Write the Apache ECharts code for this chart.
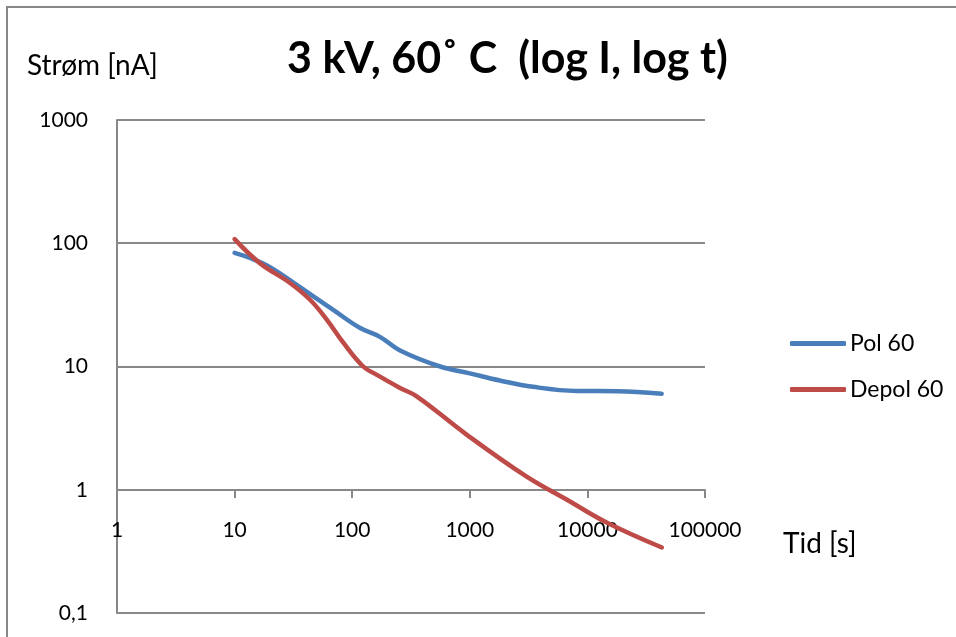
<!DOCTYPE html>
<html>
<head>
<meta charset="utf-8">
<script src="https://cdn.jsdelivr.net/npm/echarts@6/dist/echarts.min.js"></script>
<style>
html,body{margin:0;padding:0;background:#fff;}
#c{width:956px;height:637px;}
</style>
</head>
<body>
<div id="c"></div>
<script>
var titleText = '3 kV, 60\u02DA C  (log I, log t)';
var yName = 'Strøm [nA]';
var xName = 'Tid [s]';
var seriesNames = ['Pol 60', 'Depol 60'];
var polTime = [10, 13.5, 20, 36, 69, 116, 172, 255, 560, 1000, 1800, 3450, 8100, 17800, 42800];
var polCurrent = [83.6, 76, 64, 44, 28.8, 20.6, 17.4, 13.5, 10, 8.8, 7.7, 6.84, 6.33, 6.3, 6.0];
var depolTime = [10, 16.4, 29.6, 43.8, 61, 84, 124, 162, 255, 356, 945, 3070, 6700, 14700, 43000];
var depolCurrent = [108, 69, 47.6, 34.8, 23.9, 15.6, 10, 8.56, 6.7, 5.7, 2.79, 1.27, 0.83, 0.54, 0.34];

function pairs(xs, ys){ return xs.map(function(x,i){ return [x, ys[i]]; }); }

var font = 'Lato, "Open Sans", sans-serif';
var chart = echarts.init(document.getElementById('c'), null, {renderer:'canvas'});
chart.setOption({
  animation:false,
  backgroundColor:'#fff',
  graphic:[
    {type:'rect', shape:{x:7,y:7,width:1000,height:700},
     style:{fill:'none', stroke:'#888', lineWidth:2}, silent:true},
    {type:'text', left:27, top:52, silent:true,
     style:{text:yName, font:'28px ' + font, fill:'#000'}},
    {type:'text', left:783, top:530, silent:true,
     style:{text:xName, font:'28px ' + font, fill:'#000'}}
  ],
  title:{
    text:titleText, left:282, top:33,
    textStyle:{fontFamily:font, fontWeight:'bold', fontSize:43, color:'#000'}
  },
  legend:{
    orient:'vertical', left:785, top:327, itemGap:23,
    itemWidth:56, itemHeight:5,
    icon:'roundRect',
    textStyle:{fontFamily:font, fontSize:23, color:'#000', padding:[0,0,0,-1]},
    data:seriesNames
  },
  grid:{left:117, right:251, top:120, bottom:24, containLabel:false},
  xAxis:{
    type:'log', logBase:10, min:1, max:100000,
    offset:-123,
    axisLine:{show:true, lineStyle:{color:'#888', width:2}},
    axisTick:{show:true, length:8, lineStyle:{color:'#888', width:2}},
    axisLabel:{fontFamily:font, fontSize:21, color:'#000', margin:30,
      formatter:function(v){ return String(Math.round(v)); }},
    splitLine:{show:false}
  },
  yAxis:{
    type:'log', logBase:10, min:0.1, max:1000,
    axisLine:{show:true, lineStyle:{color:'#888', width:2}},
    axisTick:{show:false},
    axisLabel:{fontFamily:font, fontSize:21, color:'#000', margin:29,
      formatter:function(v){ return v < 1 ? (Math.round(v*10)/10).toFixed(1).replace('.', ',') : String(Math.round(v)); }},
    splitLine:{show:true, lineStyle:{color:'#888', width:2}}
  },
  series:[
    {name:seriesNames[0], type:'line', smooth:0.4, symbol:'none', data:pairs(polTime, polCurrent),
     lineStyle:{color:'#4A7EBB', width:4.5, cap:'round'}, itemStyle:{color:'#4A7EBB'}},
    {name:seriesNames[1], type:'line', smooth:0.4, symbol:'none', data:pairs(depolTime, depolCurrent),
     lineStyle:{color:'#BE4B48', width:4.5, cap:'round'}, itemStyle:{color:'#BE4B48'}}
  ]
});
</script>
</body>
</html>
